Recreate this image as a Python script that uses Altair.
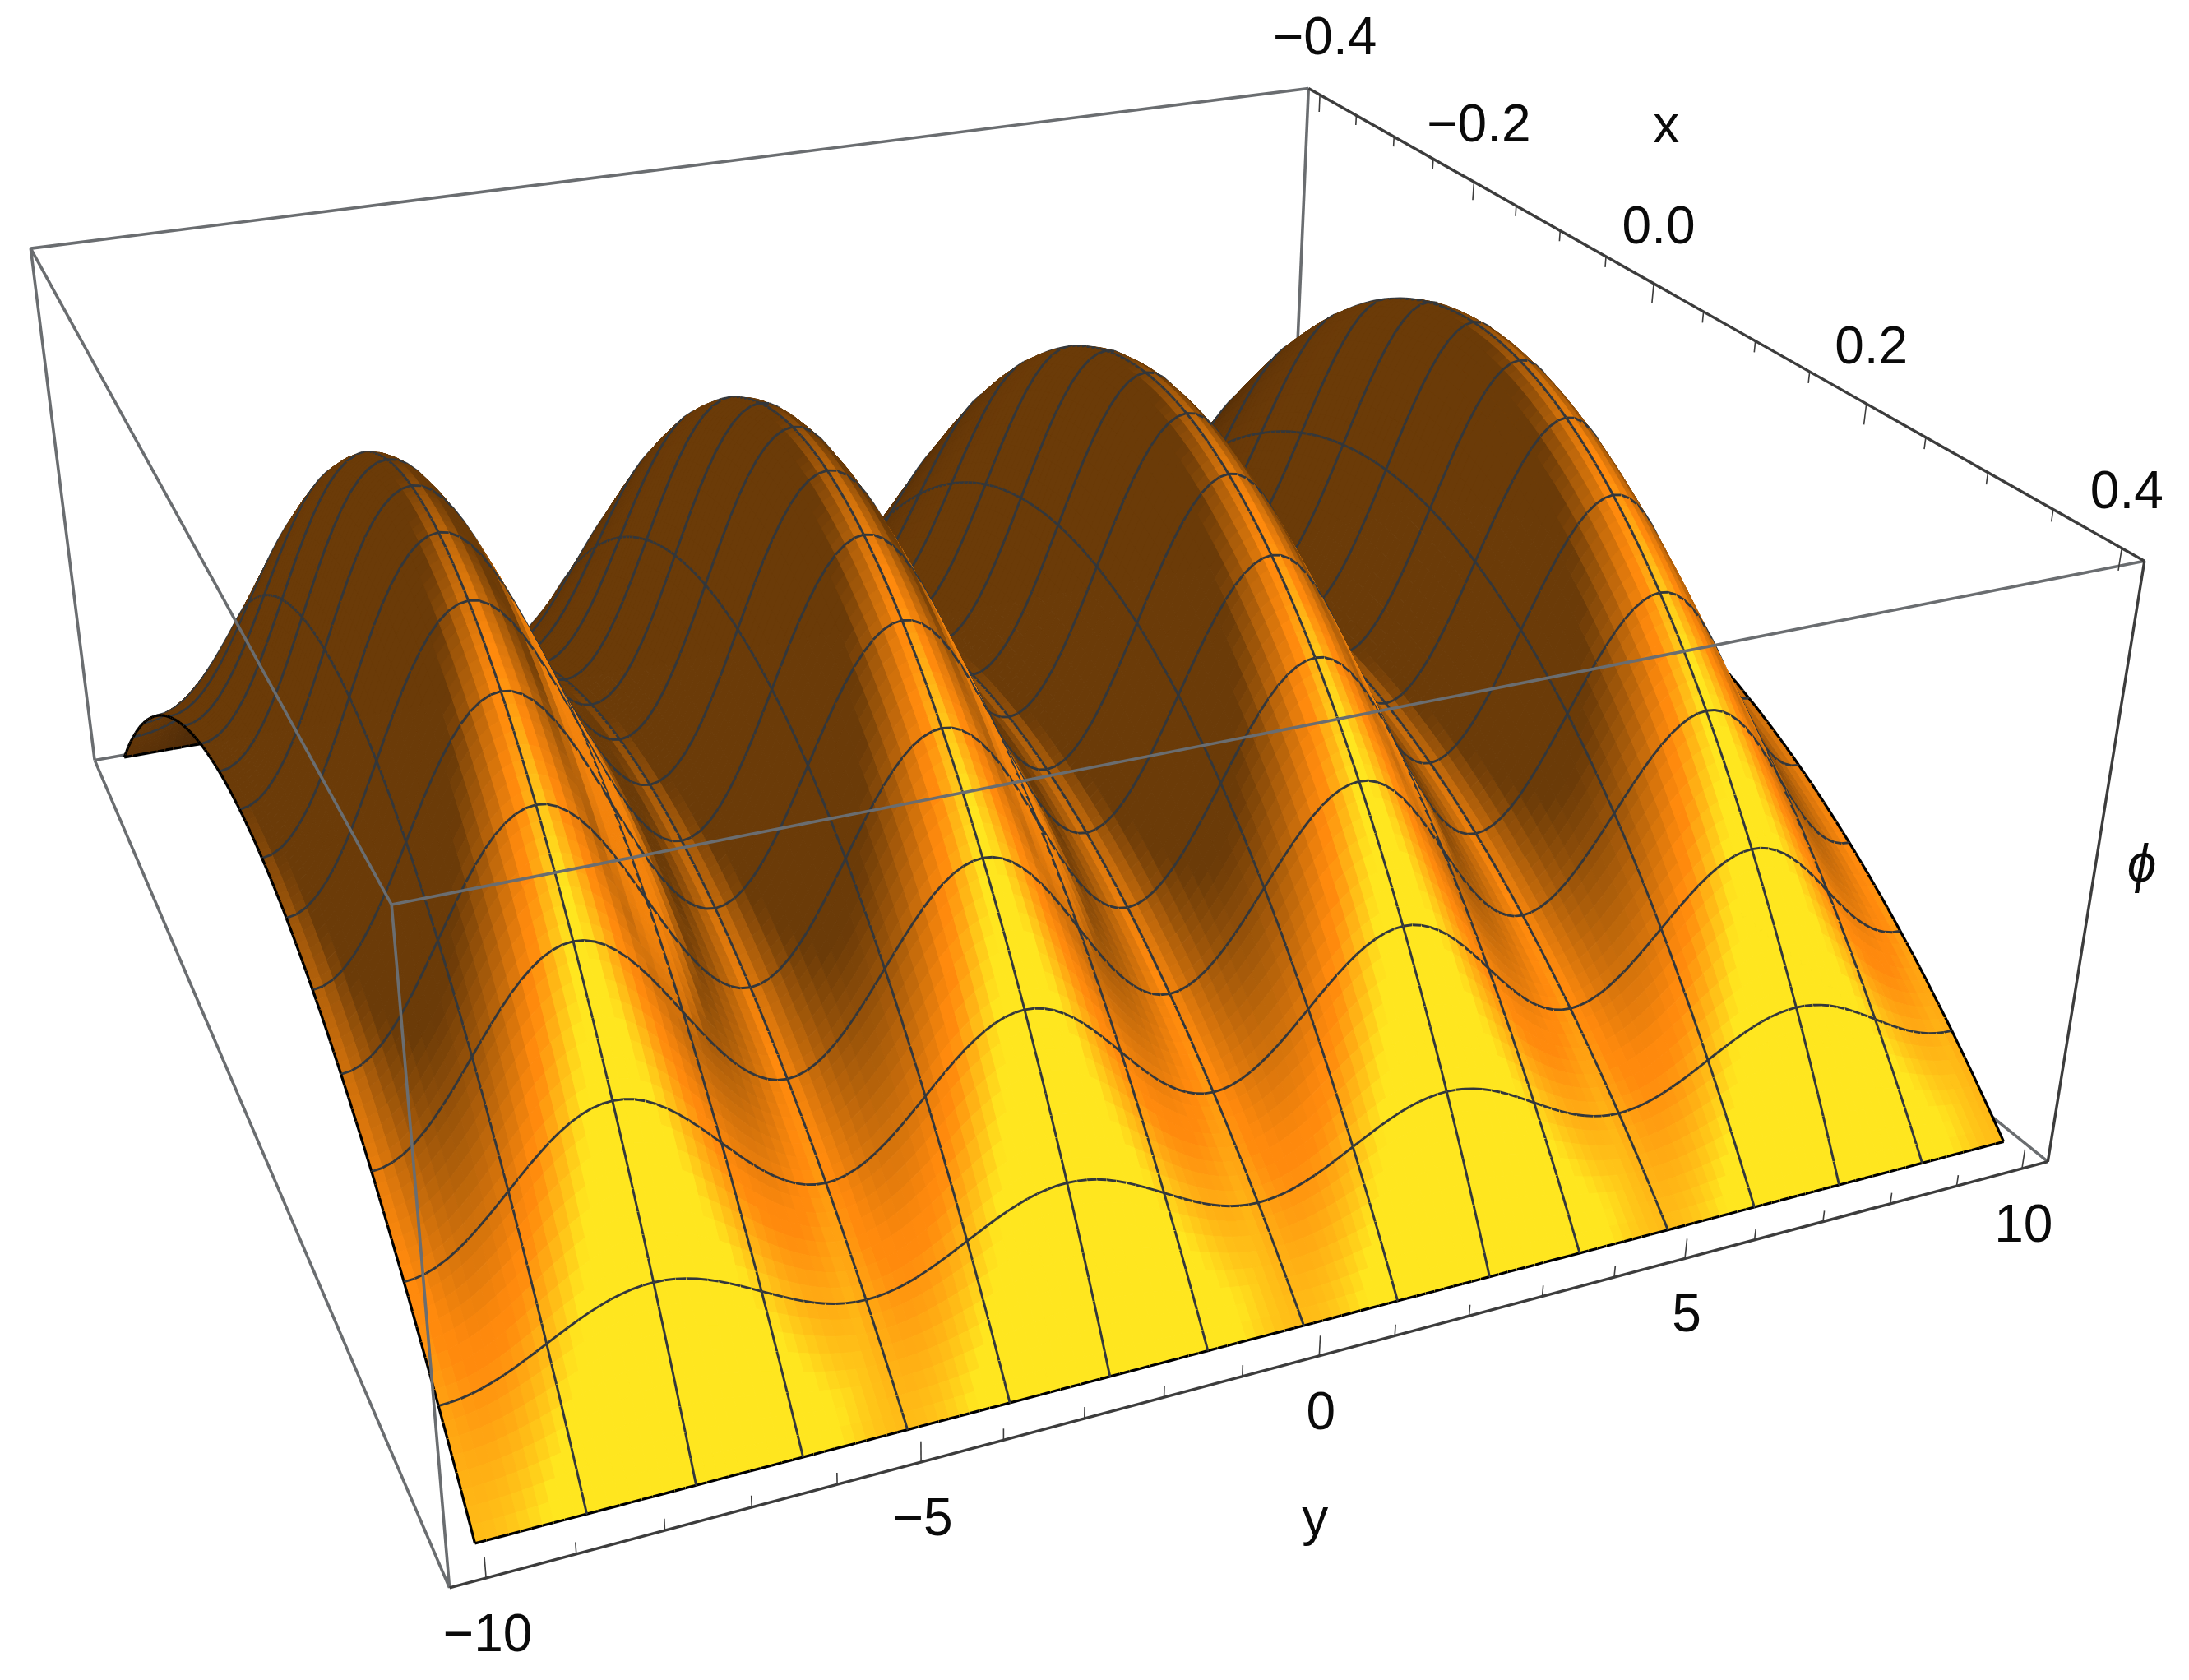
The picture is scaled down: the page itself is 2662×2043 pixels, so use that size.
import numpy as np
import altair as alt

# ---------- values ----------
# height envelope from x = 0 out to |x| = 0.4, one value per 0.00625 of x (the surface is symmetric in x)
x_half = [1.0,.99976,.99902,.99780,.99609,.99390,.99121,.98804,.98438,.98022,.97559,.97046,.96484,.95874,.95215,.94507,
          .9375,.92944,.92090,.91187,.90234,.89233,.88184,.87085,.85938,.84741,.83496,.82202,.80859,.79468,.78027,.76538,
          .75,.73413,.71777,.70093,.68359,.66577,.64746,.62866,.60938,.58960,.56934,.54858,.52734,.50562,.48340,.46069,
          .4375,.41382,.38965,.36499,.33984,.31421,.28809,.26147,.23438,.20679,.17871,.15015,.12109,.09155,.06152,.03101,0.0]
x_envelope = x_half[::-1] + x_half[1:]
# ripple along y over one 5-unit period, one value per 0.125 of y (four equal humps)
hump = [.5,.50308,.51224,.52725,.54775,.57322,.60305,.63650,.67275,.71089,.75,.78911,.82725,.86350,.89695,.92678,.95225,.97275,.98776,.99692,
        1.0,.99692,.98776,.97275,.95225,.92678,.89695,.86350,.82725,.78911,.75,.71089,.67275,.63650,.60305,.57322,.54775,.52725,.51224,.50308]
y_ripple = hump * 4 + [.5]
x_major = [-0.4,-0.2,0.0,0.2,0.4]
x_major_text = ["\u22120.4","\u22120.2","0.0","0.2","0.4"]
y_major = [-10,-5,0,5,10]
y_major_text = ["\u221210","\u22125","0","5","10"]
x_minor = [-0.35,-0.3,-0.25,-0.15,-0.1,-0.05,0.05,0.1,0.15,0.25,0.3,0.35]
y_minor = [-9,-8,-7,-6,-4,-3,-2,-1,1,2,3,4,6,7,8,9]

# camera calibration: box/surface corners (x, y, phi) and where they sit in the image
calib_world = [(-.416,-10.4,1.02),(-.416,10.4,1.02),(.416,10.4,1.02),(.416,-10.4,1.02),
               (-.416,-10.4,-.02),(.416,10.4,-.02),(.416,-10.4,-.02),
               (.4,-10,0),(.4,10,0),(-.4,-10,0)]
calib_image = [(37,302),(1591,107),(2608,684),(477,1099),(115,925),(2492,1413),(545,1932),
               (578,1876),(2435,1387),(152,921)]

W, H, OFF = 2646, 2027, 8
GRAY, DARK, MESH = "#6a6d70", "#3c3c3c", "#33373b"


def homog(x, y, z):
    x, y, z = np.asarray(x, float), np.asarray(y, float), np.asarray(z, float)
    return np.stack([x / .416, y / 10.4, z * 2 - 1, np.ones_like(x * y * z)], -1)


rows = []
for (wx, wy, wz), (px, py) in zip(calib_world, calib_image):
    h = homog(wx, wy, wz)
    u, v = px / 1000, py / 1000
    rows.append(np.r_[h, np.zeros(4), -u * h])
    rows.append(np.r_[np.zeros(4), h, -v * h])
P = np.linalg.svd(np.array(rows))[2][-1].reshape(3, 4)
if (P[2] @ homog(0, 0, 0.5)) < 0:
    P = -P


def project(x, y, z):
    q = homog(x, y, z) @ P.T
    return q[..., 0] / q[..., 2] * 1000 - OFF, q[..., 1] / q[..., 2] * 1000 - OFF, q[..., 2]


xs = np.array([-0.4 + 0.00625 * k for k in range(len(x_envelope))])
ys = np.array([-10 + 0.125 * k for k in range(len(y_ripple))])
phi = np.outer(x_envelope, y_ripple)
XX, YY = np.meshgrid(xs, ys, indexing="ij")
PX, PY, PW = project(XX, YY, phi)


def sm(v, a, b):
    t = np.clip((v - a) / (b - a), 0, 1)
    return t * t * (3 - 2 * t)


# shading from the surface slopes (box units: x range = 1, y range = 1, phi range = 0.5)
dzdx, dzdy = np.gradient(phi * 0.5, xs / 0.8, ys / 20)
g = -0.25 * (dzdx[:-1, :-1] + dzdx[1:, :-1] + dzdx[:-1, 1:] + dzdx[1:, 1:])
h = 0.25 * (dzdy[:-1, :-1] + dzdy[1:, :-1] + dzdy[:-1, 1:] + dzdy[1:, 1:])
v = g - 0.45 * np.abs(h + 0.15)
r1 = np.clip((v + 0.25) / 0.85, 0, 1)
r2 = 0.92 * sm(-h + 0.9 * g, 2.2, 3.0)
r = np.maximum(r1, r2)
yel = np.clip((v - 0.65) / 0.5, 0, 1)
dim = 1 - 0.3 * sm(-g, 0.5, 1.6)
R = 0.42 * dim + (1 - 0.42 * dim) * r
G = 0.23 * dim + (0.54 - 0.23 * dim) * r + 0.36 * yel
B = 0.03 + 0.02 * r + 0.07 * yel


def hexc(a, b, c):
    return "#%02x%02x%02x" % (int(round(a * 255)), int(round(b * 255)), int(round(c * 255)))


def poly(pts, fill):
    ring = [[round(float(a), 1), round(float(b), 1)] for a, b in pts]
    ring.append(ring[0])
    return {"type": "Feature", "geometry": {"type": "Polygon", "coordinates": [ring]},
            "properties": {"fill": fill, "stroke": fill, "sw": 1.0}}


def line(ax, ay, colour, sw):
    c = [[round(float(a), 1), round(float(b), 1)] for a, b in zip(ax, ay)]
    return {"type": "Feature", "geometry": {"type": "LineString", "coordinates": c},
            "properties": {"fill": "transparent", "stroke": colour, "sw": sw}}


def seg3d(a, b, colour, sw):
    x0, y0, _ = project(*a)
    x1, y1, _ = project(*b)
    return line([x0, x1], [y0, y1], colour, sw)


nx, ny = phi.shape
Dq = 0.25 * (PW[:-1, :-1] + PW[1:, :-1] + PW[:-1, 1:] + PW[1:, 1:])
surf = []
for i in range(nx - 1):
    for j in range(ny - 1):
        pts = [(PX[i, j], PY[i, j]), (PX[i + 1, j], PY[i + 1, j]),
               (PX[i + 1, j + 1], PY[i + 1, j + 1]), (PX[i, j + 1], PY[i, j + 1])]
        surf.append((-Dq[i, j], 0, poly(pts, hexc(R[i, j], G[i, j], B[i, j]))))
eps = 1e-7
# constant-x mesh and edge lines
for i in range(0, nx, 8):
    for j in range(ny - 1):
        near = [Dq[k, j] for k in (i - 1, i) if 0 <= k < nx - 1]
        edge = i in (0, nx - 1)
        surf.append((-min(near) + eps, 1, line(PX[i, j:j + 2], PY[i, j:j + 2], "#000000" if edge else MESH, 3.2 if edge else 2.9)))
# constant-y mesh and edge lines
for j in range(0, ny, 10):
    for i in range(nx - 1):
        near = [Dq[i, k] for k in (j - 1, j) if 0 <= k < ny - 1]
        edge = j in (0, ny - 1)
        surf.append((-min(near) + eps, 1, line(PX[i:i + 2, j], PY[i:i + 2, j], "#000000" if edge else MESH, 3.2 if edge else 2.9)))
surf.sort(key=lambda s: (s[0], s[1]))

x0, x1, y0, y1, z0, z1 = -.416, .416, -10.4, 10.4, -.02, 1.02
back = [seg3d((x0, y0, z1), (x0, y1, z1), GRAY, 3.6),
        seg3d((x0, y0, z1), (x0, y0, z0), GRAY, 3.6),
        seg3d((x0, y1, z1), (x0, y1, z0), GRAY, 3.6),
        seg3d((x0, y0, z0), (x0, y1, z0), GRAY, 3.6),
        seg3d((x0, y1, z0), (x1, y1, z0), GRAY, 3.6),
        seg3d((x0, y0, z0), (x1, y0, z0), GRAY, 3.6)]
front = [seg3d((x0, y0, z1), (x1, y0, z1), GRAY, 3.6),
         seg3d((x1, y0, z1), (x1, y1, z1), GRAY, 3.6),
         seg3d((x1, y0, z1), (x1, y0, z0), GRAY, 3.6),
         seg3d((x1, y0, z0), (x1, y1, z0), DARK, 3.4),
         seg3d((x0, y1, z1), (x1, y1, z1), DARK, 3.4),
         seg3d((x1, y1, z1), (x1, y1, z0), DARK, 3.4)]
for val in y_major:
    front.append(seg3d((x1, val, z0), (x1, val, z0 + .036), DARK, 1.6))
for val in y_minor:
    front.append(seg3d((x1, val, z0), (x1, val, z0 + .02), DARK, 1.6))
for val in x_major:
    front.append(seg3d((val, y1, z1), (val, y1, z1 - .036), DARK, 1.6))
for val in x_minor:
    front.append(seg3d((val, y1, z1), (val, y1, z1 - .02), DARK, 1.6))

features = back + [s[2] for s in surf] + front

geo = alt.Chart(alt.Data(values=features)).mark_geoshape().encode(
    fill=alt.Fill("properties.fill:N", scale=None),
    stroke=alt.Stroke("properties.stroke:N", scale=None),
    strokeWidth=alt.StrokeWidth("properties.sw:Q", scale=None),
).project(type="identity", scale=1, translate=[0, 0])

labels = []
for val, txt in zip(y_major, y_major_text):
    a, b, _ = project(x1, val, z0)
    labels.append({"px": float(a) + 2, "py": float(b) + 70, "t": txt})
for val, txt in zip(x_major, x_major_text):
    a, b, _ = project(val, y1, z1)
    labels.append({"px": float(a) + 6, "py": float(b) - 68, "t": txt})
a, b, _ = project(x1, 0, z0)
labels.append({"px": float(a) - 5, "py": float(b) + 199, "t": "y"})
a, b, _ = project(-0.1, y1, z1)
labels.append({"px": float(a) + 129, "py": float(b) - 127, "t": "x"})
a, b, _ = project(x1, y1, 0.5)
phi_label = [{"px": float(a) + 58, "py": float(b) - 10, "t": "\u03d5"}]

xenc = alt.X("px:Q", scale=alt.Scale(domain=[0, W], nice=False, zero=False), axis=None)
yenc = alt.Y("py:Q", scale=alt.Scale(domain=[H, 0], nice=False, zero=False), axis=None)
text = alt.Chart(alt.Data(values=labels)).mark_text(
    fontSize=64, font="Liberation Sans", color="#0a0a0a", align="center", baseline="middle"
).encode(x=xenc, y=yenc, text="t:N")
text_phi = alt.Chart(alt.Data(values=phi_label)).mark_text(
    fontSize=64, font="Liberation Sans", fontStyle="italic", color="#0a0a0a", align="center", baseline="middle"
).encode(x=xenc, y=yenc, text="t:N")

chart = alt.layer(geo, text, text_phi).properties(width=W, height=H, padding=0).configure_view(stroke=None)
chart.save("out.html", embed_options={"renderer": "svg", "actions": False})
